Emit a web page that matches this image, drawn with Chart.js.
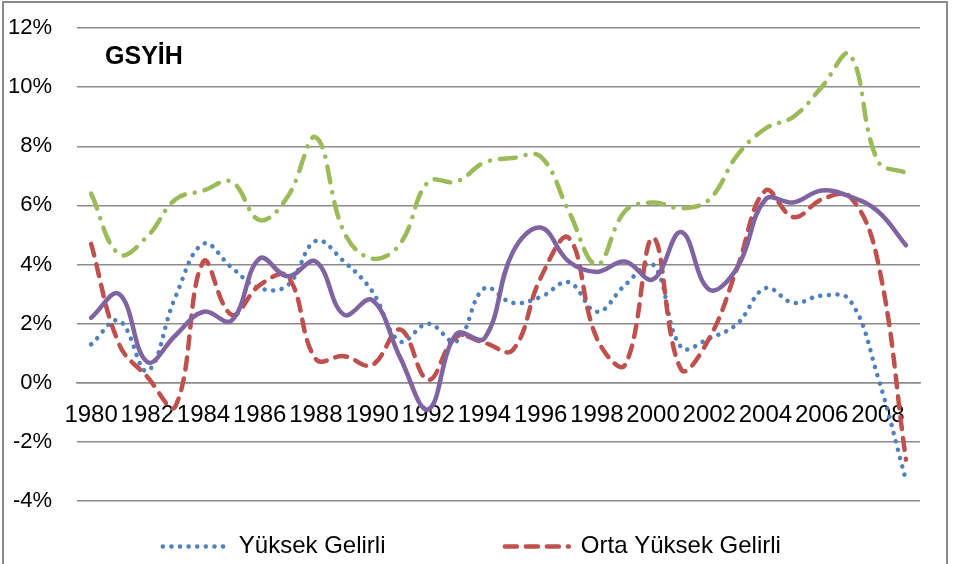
<!DOCTYPE html>
<html>
<head>
<meta charset="utf-8">
<title>GSYİH</title>
<script src="https://cdn.jsdelivr.net/npm/chart.js@4.4.0/dist/chart.umd.min.js"></script>
<style>
  html, body { margin: 0; padding: 0; background: #fff; overflow: hidden; }
  #frame { position: absolute; left: 2px; top: 1px; width: 946px; height: 620px; border: 2px solid #8c8c8c; box-sizing: border-box; }
  #wrap { position: absolute; left: 0; top: 0; width: 953px; height: 564px; }
</style>
</head>
<body>
<div id="frame"></div>
<div id="wrap"><canvas id="myChart"></canvas></div>
<script>
// yillar (1980-2009)
const years = ['1980', '1981', '1982', '1983', '1984', '1985', '1986', '1987', '1988', '1989',
               '1990', '1991', '1992', '1993', '1994', '1995', '1996', '1997', '1998', '1999',
               '2000', '2001', '2002', '2003', '2004', '2005', '2006', '2007', '2008', '2009'];

// GSYİH buyume oranlari, %
const yuksekGelirli = [1.3, 2.1, 0.4, 2.9, 4.7, 3.9, 3.2, 3.3, 4.8, 4.1,
                       3.1, 1.4, 2.0, 1.4, 3.2, 2.7, 2.9, 3.4, 2.4, 3.3,
                       4.0, 1.2, 1.5, 2.0, 3.2, 2.7, 2.95, 2.8, 0.2, -3.3];
const ortaYuksekGelirli = [4.7, 1.3, 0.2, -0.8, 4.1, 2.3, 3.3, 3.6, 0.8, 0.9,
                           0.6, 1.8, 0.1, 1.55, 1.35, 1.1, 3.55, 4.9, 1.5, 0.6,
                           4.9, 0.45, 1.5, 3.9, 6.5, 5.6, 6.2, 6.3, 4.1, -2.6];
const ortaDusukGelirli = [6.4, 4.35, 4.95, 6.2, 6.5, 6.8, 5.5, 6.3, 8.3, 5.1,
                          4.2, 4.7, 6.8, 6.8, 7.45, 7.6, 7.65, 5.8, 4.0, 5.8,
                          6.1, 5.9, 6.2, 7.7, 8.6, 9.0, 10.0, 11.1, 7.5, 7.1];
const dusukGelirli = [2.2, 3.0, 0.7, 1.6, 2.4, 2.1, 4.2, 3.6, 4.1, 2.3,
                      2.8, 0.85, -0.9, 1.65, 1.5, 4.4, 5.25, 4.1, 3.75, 4.1,
                      3.5, 5.1, 3.15, 3.9, 6.2, 6.1, 6.5, 6.3, 5.8, 4.65];

const yMin = -4;
const yMax = 12;
const yStep = 2;

const fontName = '"Liberation Sans", Arial, sans-serif';

// grafik icindeki baslik
const titlePlugin = {
    id: 'gsyihTitle',
    afterDraw(chart) {
        const ctx = chart.ctx;
        ctx.save();
        ctx.font = 'bold 25px ' + fontName;
        ctx.fillStyle = '#000';
        ctx.textBaseline = 'alphabetic';
        ctx.fillText('GSYİH', chart.chartArea.left + 28, chart.chartArea.top + 36);
        ctx.restore();
    }
};

const ctx = document.getElementById('myChart');
new Chart(ctx, {
    type: 'line',
    data: {
        labels: years,
        datasets: [{
            label: 'Yüksek Gelirli',
            data: yuksekGelirli,
            borderColor: '#4F81BD',
            backgroundColor: '#4F81BD',
            borderWidth: 4.5,
            borderDash: [0.1, 8.5],
            borderCapStyle: 'round',
            order: 3
        }, {
            label: 'Orta Yüksek Gelirli',
            data: ortaYuksekGelirli,
            borderColor: '#C0504D',
            backgroundColor: '#C0504D',
            borderWidth: 4.5,
            borderDash: [12, 9],
            borderCapStyle: 'round',
            order: 2
        }, {
            label: 'Orta Düşük Gelirli',
            data: ortaDusukGelirli,
            borderColor: '#9BBB59',
            backgroundColor: '#9BBB59',
            borderWidth: 4.5,
            borderDash: [16, 10, 0.1, 10],
            borderCapStyle: 'round',
            order: 1
        }, {
            label: 'Düşük Gelirli',
            data: dusukGelirli,
            borderColor: '#8064A2',
            backgroundColor: '#8064A2',
            borderWidth: 4.5,
            borderCapStyle: 'round',
            borderJoinStyle: 'round',
            order: 0
        }]
    },
    options: {
        responsive: true,
        maintainAspectRatio: false,
        animation: false,
        layout: {
            padding: { left: 8, right: 33, top: 28, bottom: -4.5 }
        },
        elements: {
            point: { radius: 0, hoverRadius: 0 },
            line: { tension: 0.4, fill: false }
        },
        scales: {
            x: {
                type: 'category',
                offset: true,
                position: { y: 0 },
                grid: {
                    display: true,
                    drawOnChartArea: false,
                    drawTicks: true,
                    tickLength: 18,
                    color: 'rgba(0,0,0,0)',
                    tickColor: 'rgba(0,0,0,0)'
                },
                border: { display: true, color: '#8c8c8c', width: 1.5 },
                ticks: {
                    autoSkip: false,
                    maxRotation: 0,
                    minRotation: 0,
                    padding: 0,
                    color: '#000',
                    font: { family: fontName, size: 24 },
                    callback: function(value, index) {
                        return index % 2 === 0 ? years[index] : '';
                    }
                },
                afterFit: function(scale) {
                    scale.height = 0;
                }
            },
            y: {
                min: yMin,
                max: yMax,
                grid: {
                    color: '#8c8c8c',
                    lineWidth: 1.5,
                    drawTicks: true,
                    tickLength: 25,
                    tickColor: 'rgba(0,0,0,0)'
                },
                border: { display: false },
                ticks: {
                    stepSize: yStep,
                    padding: 0,
                    color: '#000',
                    font: { family: fontName, size: 22 },
                    callback: value => value + '%'
                }
            }
        },
        plugins: {
            tooltip: { enabled: false },
            legend: {
                position: 'bottom',
                fullSize: false,
                title: { display: true, text: ' ', font: { size: 1 }, padding: { top: 26.3, bottom: 0 } },
                labels: {
                    usePointStyle: true,
                    pointStyle: 'line',
                    pointStyleWidth: 64,
                    padding: 6,
                    color: '#000',
                    font: { family: fontName, size: 24 },
                    generateLabels: function(chart) {
                        // sadece ilk iki seri gorunuyor (gerisi kesik)
                        const items = Chart.defaults.plugins.legend.labels.generateLabels(chart)
                            .filter(item => item.datasetIndex < 2)
                            .sort((a, b) => a.datasetIndex - b.datasetIndex);
                        items.forEach(item => {
                            const ds = chart.data.datasets[item.datasetIndex];
                            item.lineDash = ds.borderDash || [];
                            item.lineCap = 'round';
                            item.lineWidth = ds.borderWidth;
                            item.strokeStyle = ds.borderColor;
                        });
                        items[0].text = items[0].text + '\u00a0'.repeat(17);
                        items[1].text = items[1].text + '\u00a0'.repeat(8);
                        return items;
                    }
                }
            }
        }
    },
    plugins: [titlePlugin]
});
</script>
</body>
</html>
